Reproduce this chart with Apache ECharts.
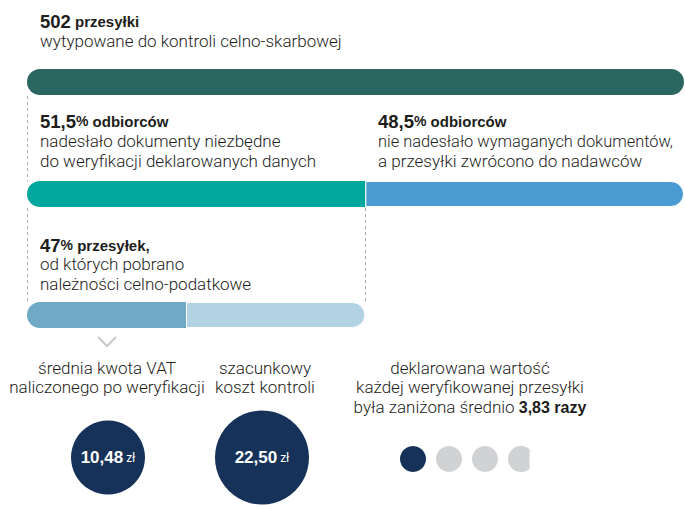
<!DOCTYPE html>
<html>
<head>
<meta charset="utf-8">
<script src="https://cdn.jsdelivr.net/npm/echarts@6/dist/echarts.min.js"></script>
<style>
html,body{margin:0;padding:0;background:#fff;}
#chart{width:685px;height:507px;}
</style>
</head>
<body>
<div id="chart"></div>
<script>
// ---------- DATA ----------
const totalShipments = 502;
const responseLabels = ['nadesłało dokumenty', 'nie nadesłało dokumentów'];
const responseShares = [51.5, 48.5];          // % odbiorców
const chargedShare = 47;                       // % przesyłek z pobranymi należnościami
const circleLabels = ['średnia kwota VAT naliczonego po weryfikacji', 'szacunkowy koszt kontroli'];
const circleValues = [10.48, 22.50];           // zł
const undervaluationRatio = 3.83;              // razy
const dotSlots = ['1', '2', '3', '4'];

// ---------- STYLE ----------
const REG = 'Roboto, "Liberation Sans", sans-serif';
const BOLD = '"Liberation Sans", Arial, sans-serif';
const TXT = '#1d1d1b';
const C_TOP = '#2b6661', C_TEAL = '#00a79c', C_BLUE = '#4b9bd3';
const C_B3A = '#6fa9c5', C_B3B = '#b2d3e3';
const NAVY = '#163259', GREY = '#d1d2d4';
const circleDiameters = [74, 94];
const BAR_H = 26, R = 13;
const FS = 17;

const fmt = v => String(v).replace('.', ',');
const fmt2 = v => v.toFixed(2).replace('.', ',');

const chargedPart = responseShares[0] * chargedShare / 100;
const restPart = responseShares[0] - chargedPart;

function barGrid(top) { return { left: 27, width: 657, top: top, height: BAR_H }; }
const grids = [barGrid(69), barGrid(181), barGrid(302),
  { left: 31, width: 308, top: 408, height: 100 },
  { left: 395, width: 144, top: 446, height: 26 }];

const xAxes = [0, 1, 2].map(i => ({ gridIndex: i, type: 'value', min: 0, max: 100, show: false }));
xAxes.push({ gridIndex: 3, type: 'category', data: circleLabels, show: false });
xAxes.push({ gridIndex: 4, type: 'category', data: dotSlots, show: false });
const yAxes = [0, 1, 2].map(i => ({ gridIndex: i, type: 'category', data: ['x'], show: false }));
yAxes.push({ gridIndex: 3, type: 'value', min: 0, max: 1, show: false });
yAxes.push({ gridIndex: 4, type: 'value', min: 0, max: 1, show: false });

function bar(gi, stack, value, color, radius, border) {
  return {
    type: 'bar', xAxisIndex: gi, yAxisIndex: gi, stack: stack, barWidth: BAR_H,
    data: [value], silent: true, animation: false,
    itemStyle: { color: color, borderRadius: radius, borderColor: '#fff', borderWidth: border ? 1 : 0 }
  };
}

const series = [
  bar(0, 's0', 100, C_TOP, R, false),
  bar(1, 's1', responseShares[0], C_TEAL, [R, 0, 0, R], false),
  bar(1, 's1', responseShares[1], C_BLUE, [0, R, R, 0], true),
  bar(2, 's2', chargedPart, C_B3A, [R, 0, 0, R], false),
  bar(2, 's2', restPart, C_B3B, [0, R, R, 0], true),
  {
    type: 'scatter', xAxisIndex: 3, yAxisIndex: 3, animation: false, silent: true,
    data: circleValues.map((v, i) => ({ value: [i, 0.5], raw: v, symbolSize: circleDiameters[i] })),
    itemStyle: { color: NAVY, opacity: 1 },
    label: {
      show: true, position: 'inside',
      formatter: p => '{v|' + fmt2(p.data.raw) + '}{u| zł}',
      rich: {
        v: { fontFamily: BOLD, fontWeight: 'bold', fontSize: 17, color: '#fff' },
        u: { fontFamily: REG, fontSize: 12, color: '#fff' }
      }
    }
  },
  {
    type: 'custom', xAxisIndex: 4, yAxisIndex: 4, animation: false, silent: true,
    data: dotSlots.map((s, i) => [i, 0.5]),
    renderItem: function (params, api) {
      const i = api.value(0);
      const c = api.coord([i, 0.5]);
      const r = 13;
      const frac = Math.max(0, Math.min(1, undervaluationRatio - i));
      const color = i === 0 ? NAVY : GREY;
      if (frac >= 1) {
        return { type: 'circle', shape: { cx: c[0], cy: c[1], r: r }, style: { fill: color } };
      }
      const xc = c[0] - r + frac * 2 * r;
      const d = xc - c[0];
      const h = Math.sqrt(r * r - d * d);
      const large = d > 0 ? 1 : 0;
      const path = 'M' + xc + ' ' + (c[1] - h) + ' A' + r + ' ' + r + ' 0 ' + large + ' 0 ' + xc + ' ' + (c[1] + h) + ' Z';
      return { type: 'path', shape: { pathData: path }, style: { fill: color } };
    }
  }
];

function txt(x, y, text, opts) {
  return Object.assign({
    type: 'text', silent: true,
    style: Object.assign({ x: x, y: y, text: text, fill: TXT, fontFamily: REG, fontSize: FS, fontWeight: 300,
      align: 'left', verticalAlign: 'middle' }, opts || {})
  });
}
const headRich = {
  n: { fontFamily: BOLD, fontWeight: 'bold', fontSize: 18.5, color: TXT },
  p: { fontFamily: BOLD, fontWeight: 'bold', fontSize: 15, color: TXT },
  w: { fontFamily: BOLD, fontWeight: 'bold', fontSize: 14, color: TXT }
};

const chart = echarts.init(document.getElementById('chart'), null, { renderer: 'svg' });
chart.setOption({ animation: false, grid: grids, xAxis: xAxes, yAxis: yAxes, series: series });

const splitX = chart.convertToPixel({ xAxisIndex: 1 }, responseShares[0]);
const leftX = chart.convertToPixel({ xAxisIndex: 0 }, 0);
const dash = { stroke: '#a9a9a9', lineWidth: 1, lineDash: [3, 3] };

const graphics = [
  { type: 'line', silent: true, shape: { x1: leftX + 0.5, y1: 96, x2: leftX + 0.5, y2: 181 }, style: dash },
  { type: 'line', silent: true, shape: { x1: leftX + 0.5, y1: 208, x2: leftX + 0.5, y2: 302 }, style: dash },
  { type: 'line', silent: true, shape: { x1: Math.round(splitX) + 0.5, y1: 208, x2: Math.round(splitX) + 0.5, y2: 302 }, style: dash },
  { type: 'polyline', silent: true, shape: { points: [[98, 337], [107, 346], [116, 337]] }, style: { stroke: '#c8c8c8', lineWidth: 2, fill: null } },

  txt(40, 21, '{n|' + totalShipments + '} {p|przesyłki}', { rich: headRich }),
  txt(40, 41, 'wytypowane do kontroli celno-skarbowej'),

  txt(40, 121, '{n|' + fmt(responseShares[0]) + '}{w|%} {p|odbiorców}', { rich: headRich }),
  txt(40, 141, 'nadesłało dokumenty niezbędne'),
  txt(40, 161, 'do weryfikacji deklarowanych danych'),

  txt(378, 121, '{n|' + fmt(responseShares[1]) + '}{w|%} {p|odbiorców}', { rich: headRich }),
  txt(378, 141, 'nie nadesłało wymaganych dokumentów,', { fontSize: 16.4 }),
  txt(378, 161, 'a przesyłki zwrócono do nadawców'),

  txt(40, 245, '{n|' + chargedShare + '}{w|%} {p|przesyłek,}', { rich: headRich }),
  txt(40, 264, 'od których pobrano'),
  txt(40, 284, 'należności celno-podatkowe'),

  txt(107, 368, 'średnia kwota VAT', { align: 'center' }),
  txt(107, 387, 'naliczonego po weryfikacji', { align: 'center' }),
  txt(265, 368, 'szacunkowy', { align: 'center' }),
  txt(265, 387, 'koszt kontroli', { align: 'center' }),
  txt(470, 368, 'deklarowana wartość', { align: 'center' }),
  txt(470, 387, 'każdej weryfikowanej przesyłki', { align: 'center' }),
  txt(470, 407, '{r|była zaniżona średnio }{b|' + fmt2(undervaluationRatio) + ' razy}', {
    align: 'center',
    rich: { r: { fontFamily: REG, fontSize: FS, fontWeight: 300, color: TXT }, b: { fontFamily: BOLD, fontWeight: 'bold', fontSize: 16, color: TXT } }
  })
];
chart.setOption({ graphic: graphics });
</script>
</body>
</html>
